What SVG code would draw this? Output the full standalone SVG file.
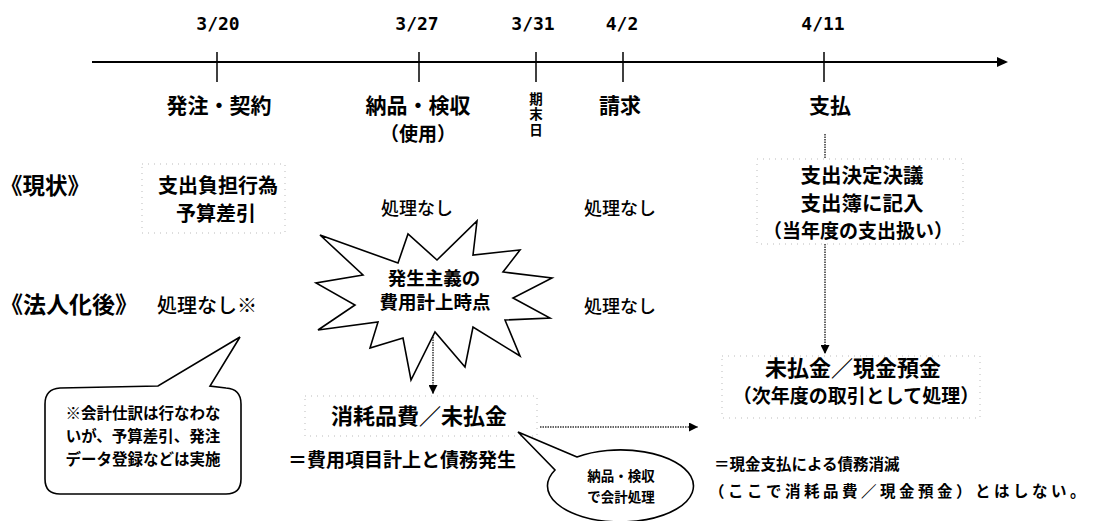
<svg xmlns="http://www.w3.org/2000/svg" width="1093" height="521" viewBox="0 0 1093 521">
<defs>
<style>
text{font-family:"Noto Sans CJK JP","Noto Sans",sans-serif;fill:#000}
.date{font-family:"DejaVu Sans Mono",monospace;font-size:18px;font-weight:700;text-anchor:middle}
.b{font-weight:700}
.m{font-weight:500}
.c{text-anchor:middle}
.axis{stroke:#000;stroke-width:2}
.tick{stroke:#000;stroke-width:1.5}
.dot{fill:none;stroke:#333;stroke-width:1.5;stroke-dasharray:1.5 1}
.box{fill:#fff;stroke:#bbb;stroke-width:1;stroke-dasharray:1 5}
.shape{fill:#fff;stroke:#000;stroke-width:1.6;stroke-linejoin:miter}
</style>
<marker id="ah" viewBox="0 0 10 10" refX="10" refY="5" markerWidth="9" markerHeight="9" markerUnits="userSpaceOnUse" orient="auto"><path d="M0,0 L10,5 L0,10 Z" fill="#000"/></marker>
</defs>
<rect width="1093" height="521" fill="#fff"/>

<g id="axis">
<line class="axis" x1="92" y1="62" x2="998" y2="62"/>
<polygon points="997,57 1008,62 997,67" fill="#000"/>
<line class="tick" x1="217" y1="52" x2="217" y2="82"/>
<line class="tick" x1="419" y1="52" x2="419" y2="82"/>
<line class="tick" x1="536" y1="52" x2="536" y2="82"/>
<line class="tick" x1="623" y1="52" x2="623" y2="82"/>
<line class="tick" x1="824" y1="52" x2="824" y2="82"/>
<text class="date" x="218" y="30">3/20</text>
<text class="date" x="417" y="30">3/27</text>
<text class="date" x="533" y="30">3/31</text>
<text class="date" x="622" y="30">4/2</text>
<text class="date" x="823" y="30">4/11</text>
</g>

<g id="connectors">
<line class="dot" x1="825" y1="134" x2="825" y2="354" marker-end="url(#ah)"/>
<line class="dot" x1="433" y1="332" x2="433" y2="394" marker-end="url(#ah)"/>
<line class="dot" x1="540" y1="427" x2="698" y2="427" marker-end="url(#ah)"/>
</g>

<g id="ev-order"><text class="b c" x="219" y="113" font-size="21">発注・契約</text></g>
<g id="ev-delivery"><text class="b c" x="418" font-size="21"><tspan x="418" y="113">納品・検収</tspan><tspan x="418" y="141" font-size="19">（使用）</tspan></text></g>
<g id="ev-yearend"><text class="b" x="536" y="92" font-size="13.5" letter-spacing="2" writing-mode="vertical-rl">期末日</text></g>
<g id="ev-invoice"><text class="b c" x="620" y="113" font-size="21">請求</text></g>
<g id="ev-payment"><text class="b c" x="830" y="113" font-size="21">支払</text></g>

<g id="label-current"><text class="b" x="0" y="194" font-size="22.5">《現状》</text></g>
<g id="label-after"><text class="b" x="0" y="313" font-size="23">《法人化後》</text></g>

<g id="cur-order">
<rect class="box" x="142" y="164" width="143" height="69"/>
<text class="b c" font-size="20"><tspan x="218" y="193">支出負担行為</tspan><tspan x="216" y="220.5">予算差引</tspan></text>
</g>
<g id="cur-delivery"><text class="m c" x="417" y="215" font-size="18">処理なし</text></g>
<g id="cur-invoice"><text class="m c" x="620" y="215" font-size="18">処理なし</text></g>
<g id="cur-payment">
<rect class="box" x="757" y="159" width="206" height="85"/>
<text class="b c" font-size="20.5"><tspan x="862" y="183">支出決定決議</tspan><tspan x="862" y="210.5">支出簿に記入</tspan><tspan x="858" y="238" font-size="19">（当年度の支出扱い）</tspan></text>
</g>

<g id="new-order"><text class="m" x="157" y="313" font-size="20">処理なし※</text></g>
<g id="new-invoice"><text class="m c" x="620" y="313" font-size="18">処理なし</text></g>

<g id="burst">
<polygon class="shape" points="320,235 398,263 408,234 437,260 477,221 473,255 520,250 503,272 552,278 513,298 550,318 505,320 520,356 473,327 465,367 435,332 411,380 403,338 370,348 378,322 318,330 355,305 316,283 363,275"/>
<text class="b c" font-size="18.5"><tspan x="434" y="285">発生主義の</tspan><tspan x="435" y="309">費用計上時点</tspan></text>
</g>

<g id="new-delivery">
<rect class="box" x="305" y="396" width="232" height="40"/>
<text class="b c" x="419" y="424" font-size="22">消耗品費／未払金</text>
<text class="b" x="288" y="467" font-size="19">＝費用項目計上と債務発生</text>
</g>

<g id="new-payment">
<rect class="box" x="722" y="356" width="258" height="62"/>
<text class="b c" font-size="22"><tspan x="853" y="376">未払金／現金預金</tspan><tspan x="856" y="403" font-size="19">（次年度の取引として処理）</tspan></text>
<text class="b" font-size="15.5"><tspan x="714" y="470">＝現金支払による債務消滅</tspan><tspan x="709" y="497" letter-spacing="3.5">（ここで消耗品費／現金預金）とはしない。</tspan></text>
</g>

<g id="note-left">
<path class="shape" d="M60,388 L158,386 L240,337 L210,386 L226,388 Q241,389 241,404 L241,479 Q241,494 226,494 L60,494 Q45,494 45,479 L45,404 Q45,389 60,388 Z"/>
<text class="b c" font-size="15.5"><tspan x="143" y="419">※会計仕訳は行なわな</tspan><tspan x="143" y="442">いが、予算差引、発注</tspan><tspan x="143" y="465">データ登録などは実施</tspan></text>
</g>

<g id="note-right">
<path class="shape" d="M577,457 L518,432 L555,470 A73 36 0 1 0 577,457 Z"/>
<text class="b c" font-size="13.5"><tspan x="621" y="481">納品・検収</tspan><tspan x="621" y="502">で会計処理</tspan></text>
</g>
</svg>
